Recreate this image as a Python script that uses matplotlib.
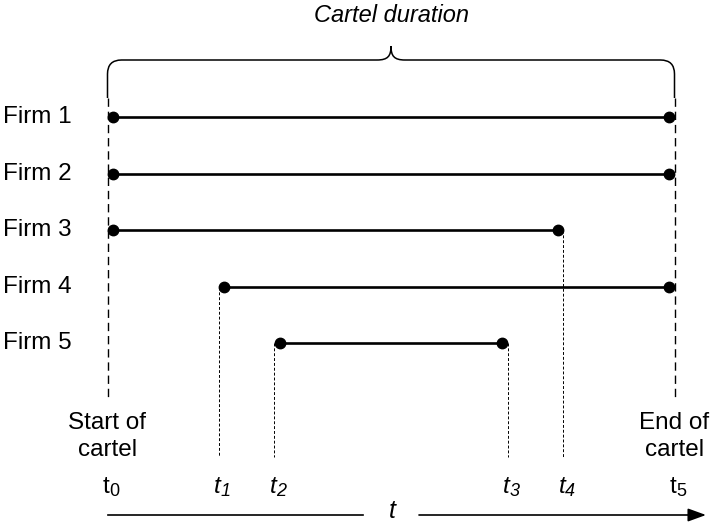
import numpy as np
import matplotlib.pyplot as plt
from matplotlib.path import Path
from matplotlib.patches import PathPatch

plt.rcParams['font.family'] = ['Liberation Sans', 'DejaVu Sans']

# time points t0..t5 (arbitrary time units)
time_points = [0, 2, 3, 7, 8, 10]
time_subs = ["0", "1", "2", "3", "4", "5"]
time_italic = [False, True, True, True, True, False]

firms = ["Firm 1", "Firm 2", "Firm 3", "Firm 4", "Firm 5"]
entry_idx = [0, 0, 0, 1, 2]
exit_idx = [5, 5, 4, 5, 3]

# layout (pixels, figure is 712 x 527)
W, H = 712, 527
px0, px_per_t = 113, 55.6
row_y0, row_step = 117, 56.6
off = 5.5 / px_per_t  # dashed guide sits at the edge of the dot


def px(v):
    return v / px_per_t


fig = plt.figure(figsize=(W / 100, H / 100), dpi=100)
ax = fig.add_axes([0, 0, 1, 1])
ax.set_xlim(-px(px0), px(W - px0))
ax.set_ylim(H, 0)
ax.axis('off')

rows = [row_y0 + row_step * i for i in range(len(firms))]

# firm participation lines
for name, y, a, b in zip(firms, rows, entry_idx, exit_idx):
    xa, xb = time_points[a], time_points[b]
    ax.plot([xa, xb], [y, y], color='black', lw=1.9, solid_capstyle='butt', zorder=3)
    ax.plot([xa, xb], [y, y], 'o', color='black', ms=7.5, zorder=4)
    ax.text(-px(px0) + px(3), y, name, fontsize=17.5, ha='left', va='center')

# vertical guides + time labels
for k, t in enumerate(time_points):
    starts = [rows[i] for i in range(len(firms)) if entry_idx[i] == k]
    ends = [rows[i] for i in range(len(firms)) if exit_idx[i] == k]
    x = t - off if starts else t + off
    if k in (0, len(time_points) - 1):
        ax.plot([x, x], [98, 400], color='black', lw=1.0, dashes=(6, 3.5), zorder=2)
    else:
        ytop = min(starts + ends)
        ax.plot([x, x], [ytop, 457], color='black', lw=0.7, dashes=(3, 2), zorder=2)
    st = 'italic' if time_italic[k] else 'normal'
    xj = x + px(2)
    ax.text(xj, 493, "t", fontsize=17.5, style=st, ha='right', va='baseline')
    ax.text(xj, 496, time_subs[k], fontsize=13, style=st, ha='left', va='baseline')

# start / end captions
x_start = time_points[0] - off
x_end = time_points[-1] + off
ax.text(x_start, 423, "Start of", fontsize=17.5, ha='center', va='center')
ax.text(x_start, 450, "cartel", fontsize=17.5, ha='center', va='center')
ax.text(x_end, 423, "End of", fontsize=17.5, ha='center', va='center')
ax.text(x_end, 450, "cartel", fontsize=17.5, ha='center', va='center')

# brace over the whole cartel
xl, xr = x_start, x_end
xm = (xl + xr) / 2
r = px(14)
hy, by, py = 60, 98, 46
verts = [(xl, by), (xl, hy + 14), (xl, hy), (xl + r, hy),
         (xm - r, hy), (xm - px(3), hy), (xm, hy - 4), (xm, py),
         (xm, hy - 4), (xm + px(3), hy), (xm + r, hy),
         (xr - r, hy), (xr, hy), (xr, hy + 14), (xr, by)]
codes = [Path.MOVETO, Path.LINETO, Path.CURVE3, Path.CURVE3,
         Path.LINETO, Path.CURVE4, Path.CURVE4, Path.CURVE4,
         Path.CURVE4, Path.CURVE4, Path.CURVE4,
         Path.LINETO, Path.CURVE3, Path.CURVE3, Path.LINETO]
ax.add_patch(PathPatch(Path(verts, codes), fill=False, lw=1.1, color='black'))
ax.text(xm, 16, "Cartel duration", fontsize=17, style='italic', ha='center', va='center')

# time axis arrow
ya = 515
ax.plot([px(108 - px0), px(363 - px0)], [ya, ya], color='black', lw=1.2)
ax.annotate("", xy=(px(706 - px0), ya), xytext=(px(419 - px0), ya),
            arrowprops=dict(arrowstyle='-|>,head_length=1.1,head_width=0.4', color='black', lw=1.2,
                            shrinkA=0, shrinkB=0))
ax.text(px(392 - px0), 511, "t", fontsize=18, style='italic', ha='center', va='center')

fig.savefig("out.png", dpi=100)
